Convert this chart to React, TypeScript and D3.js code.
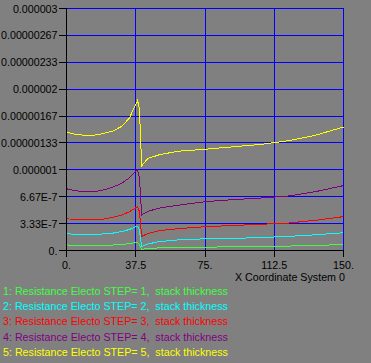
import React, { useRef, useEffect } from 'react';
import * as d3 from 'd3';

// x positions (shared by all series), values in units of 1e-7
const xs = [0, 5, 10, 15, 20, 25, 30, 34, 37, 38.5, 39.5, 40.7, 44, 50, 60, 75, 90, 105, 120, 135, 150];

const step1 = [0.7, 0.6, 0.58, 0.58, 0.6, 0.68, 0.75, 0.85, 0.98, 1.03, 0.7, 0.15, 0.25, 0.32, 0.38, 0.42, 0.45, 0.48, 0.55, 0.62, 0.75];
const step2 = [2.07, 2.02, 2.0, 2.0, 2.05, 2.15, 2.35, 2.6, 2.9, 3.0, 2.5, 0.5, 0.8, 1.1, 1.3, 1.45, 1.5, 1.6, 1.75, 1.95, 2.2];
const step3 = [3.93, 3.85, 3.8, 3.8, 3.9, 4.1, 4.4, 4.8, 5.2, 5.45, 4.8, 1.75, 2.1, 2.45, 2.7, 2.95, 3.1, 3.25, 3.4, 3.75, 4.2];
const step4 = [7.65, 7.4, 7.28, 7.28, 7.5, 7.85, 8.35, 9.0, 9.7, 10.0, 9.0, 4.4, 4.85, 5.25, 5.6, 6.05, 6.3, 6.5, 6.75, 7.3, 8.05];
const step5 = [14.67, 14.4, 14.27, 14.3, 14.5, 14.8, 15.4, 16.4, 17.9, 18.6, 17.5, 10.5, 11.4, 11.85, 12.3, 12.55, 12.85, 13.15, 13.6, 14.3, 15.3];

const seriesNames = [
  '1: Resistance Electo STEP= 1,  stack thickness',
  '2: Resistance Electo STEP= 2,  stack thickness',
  '3: Resistance Electo STEP= 3,  stack thickness',
  '4: Resistance Electo STEP= 4,  stack thickness',
  '5: Resistance Electo STEP= 5,  stack thickness',
];
const seriesColors = ['#40ff40', '#00ffff', '#ff0000', '#800080', '#ffff00'];

const xTicks = [0, 37.5, 75, 112.5, 150];
const xTickLabels = ['0.', '37.5', '75.', '112.5', '150.'];
const yTicks = [0, 10 / 3, 20 / 3, 10, 40 / 3, 50 / 3, 20, 70 / 3, 80 / 3, 30];
const yTickLabels = ['0.', '3.33E-7', '6.67E-7', '0.000001', '0.00000133', '0.00000167', '0.000002', '0.00000233', '0.00000267', '0.000003'];

const W = 371;
const H = 363;
const FONT = '"Liberation Sans", Arial, sans-serif';
const FS = 10.7;

const App: React.FC = () => {
  const svgRef = useRef<SVGSVGElement | null>(null);

  useEffect(() => {
    const svg = d3.select(svgRef.current);
    svg.selectAll('*').remove();

    const x = d3.scaleLinear().domain([0, 150]).range([66.5, 343.5]);
    const y = d3.scaleLinear().domain([0, 30]).range([250.5, 8.5]);

    svg.append('rect').attr('width', W).attr('height', H).attr('fill', '#808080');

    // grid
    const grid = svg.append('g').attr('shape-rendering', 'crispEdges');
    grid
      .selectAll('line.h')
      .data(yTicks.slice(1))
      .enter()
      .append('line')
      .attr('x1', x(0))
      .attr('x2', x(150))
      .attr('y1', (d) => y(d))
      .attr('y2', (d) => y(d))
      .attr('stroke', '#0000ff');
    grid
      .selectAll('line.v')
      .data(xTicks.slice(1))
      .enter()
      .append('line')
      .attr('x1', (d) => x(d))
      .attr('x2', (d) => x(d))
      .attr('y1', y(0))
      .attr('y2', y(30))
      .attr('stroke', '#0000ff');

    // series
    const allSeries = [step1, step2, step3, step4, step5];
    const line = d3
      .line<number>()
      .x((_, i) => x(xs[i]))
      .y((d) => y(d));
    allSeries.forEach((vals, i) => {
      svg
        .append('path')
        .datum(vals)
        .attr('d', line)
        .attr('fill', 'none')
        .attr('stroke', seriesColors[i])
        .attr('stroke-width', 1)
        .attr('shape-rendering', 'crispEdges');
    });

    // axes
    const axes = svg.append('g').attr('shape-rendering', 'crispEdges').attr('stroke', '#000');
    axes.append('line').attr('x1', x(0)).attr('x2', x(0)).attr('y1', y(30)).attr('y2', y(0));
    axes.append('line').attr('x1', x(0)).attr('x2', x(150)).attr('y1', y(0)).attr('y2', y(0));
    yTicks.forEach((t) => {
      axes.append('line').attr('x1', x(0) - 8).attr('x2', x(0)).attr('y1', y(t)).attr('y2', y(t));
    });
    xTicks.forEach((t) => {
      axes.append('line').attr('x1', x(t)).attr('x2', x(t)).attr('y1', y(0)).attr('y2', y(0) + 6);
    });

    svg
      .append('g')
      .selectAll('text')
      .data(yTicks)
      .enter()
      .append('text')
      .attr('x', x(0) - 9)
      .attr('y', (d) => y(d) + 4)
      .attr('text-anchor', 'end')
      .attr('font-family', FONT)
      .attr('font-size', FS)
      .attr('fill', '#000')
      .text((_, i) => yTickLabels[i]);

    svg
      .append('g')
      .selectAll('text')
      .data(xTicks)
      .enter()
      .append('text')
      .attr('x', (d) => x(d))
      .attr('y', 269)
      .attr('text-anchor', 'middle')
      .attr('font-family', FONT)
      .attr('font-size', FS)
      .attr('fill', '#000')
      .text((_, i) => xTickLabels[i]);

    svg
      .append('text')
      .attr('x', 235)
      .attr('y', 281)
      .attr('font-family', FONT)
      .attr('font-size', FS)
      .attr('fill', '#000')
      .text('X Coordinate System 0');

    // legend
    svg
      .append('g')
      .selectAll('text')
      .data(seriesNames)
      .enter()
      .append('text')
      .attr('x', 3)
      .attr('y', (_, i) => 295 + i * 15.2)
      .attr('font-family', FONT)
      .attr('font-size', FS)
      .attr('fill', (_, i) => seriesColors[i])
      .style('white-space', 'pre')
      .text((d) => d);
  }, []);

  return (
    <svg
      ref={svgRef}
      width={W}
      height={H}
      style={{ position: 'absolute', left: 0, top: 0, display: 'block' }}
    ></svg>
  );
};

export default App;
